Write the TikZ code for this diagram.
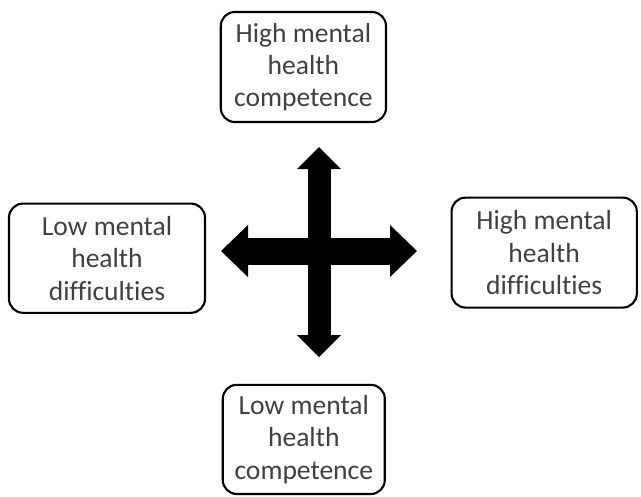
\documentclass[tikz,border=0pt]{standalone}
\usepackage{fontspec}
\setmainfont{Carlito}[Ligatures=NoCommon]
\usetikzlibrary{arrows.meta}
\definecolor{textgray}{HTML}{404040}

\begin{document}
\begin{tikzpicture}[
    box/.style={draw=black,line width=1.5pt,rounded corners=0.35cm,align=center,
                text=textgray,font=\fontsize{19.6}{23}\selectfont,inner sep=0pt},
    vcross/.style={line width=0.575cm,{Triangle[length=0.55cm,width=1.1cm,line width=0pt]}-{Triangle[length=0.55cm,width=1.1cm,line width=0pt]}},
    hcross/.style={line width=0.675cm,{Triangle[length=0.675cm,width=1.3cm,line width=0pt]}-{Triangle[length=0.675cm,width=1.3cm,line width=0pt]}},
  ]
  \useasboundingbox (-7.975,-6.125) rectangle (8.05,6.275);

  % the four boxes
  \node[box,minimum width=4.13cm,minimum height=2.75cm] (HC) at (-0.39, 4.60) {High mental\\health\\competence};
  \node[box,minimum width=4.05cm,minimum height=2.73cm] (LC) at (-0.38,-4.71) {Low mental\\health\\competence};
  \node[box,minimum width=4.90cm,minimum height=2.73cm] (LD) at (-5.30,-0.18) {Low mental\\health\\difficulties};
  \node[box,minimum width=4.63cm,minimum height=2.75cm] (HD) at ( 5.63,-0.04) {High mental\\health\\difficulties};

  % ends of the cross
  \coordinate (N) at ( 0.00, 2.60);
  \coordinate (S) at ( 0.00,-2.65);
  \coordinate (W) at (-2.45, 0.00);
  \coordinate (E) at ( 2.45, 0.00);

  \draw[vcross] (N) to (S);
  \draw[hcross] (W) to (E);
\end{tikzpicture}
\end{document}
